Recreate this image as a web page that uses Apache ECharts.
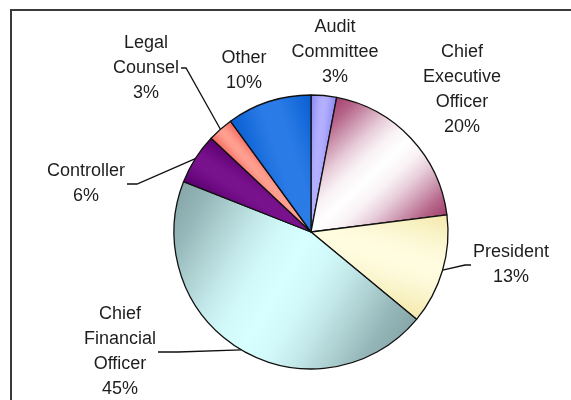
<!DOCTYPE html>
<html>
<head>
<meta charset="utf-8">
<script src="https://cdn.jsdelivr.net/npm/echarts@6/dist/echarts.min.js"></script>
<style>
  html, body { margin: 0; padding: 0; background: #ffffff; }
  #chart { width: 571px; height: 400px; }
</style>
</head>
<body>
<div id="chart"></div>
<script>
// Who signs off: share of responses by role
var categories = ['Audit\nCommittee', 'Chief\nExecutive\nOfficer', 'President',
                  'Chief\nFinancial\nOfficer', 'Controller', 'Legal\nCounsel', 'Other'];
var values = [3, 20, 13, 45, 6, 3, 10];

// Slice fills: edge colour and the lighter colour along each slice's bisector
var edgeColors = ['#8c88f2', '#a4406e', '#f4eab0', '#86a6a8', '#5c0072', '#f46a60', '#0a60d2'];
var midColors  = ['#b4b0ff', '#ffffff', '#fffce0', '#d8ffff', '#7a128e', '#ffa090', '#2c7ce8'];

// Layout
var CX = 311, CY = 232, R = 137;
var labelPos = [[335, 52], [462, 90], [511, 265], [120, 352], [86, 184], [146, 68], [244, 71]];
var showLine = [false, false, true, true, true, true, false];
var elbow = [0, 0, 6, 20, 10, 5, 0];

var total = values.reduce(function (a, b) { return a + b; }, 0);
var cum = [];
(function () { var s = 0; values.forEach(function (v) { cum.push(s); s += v; }); })();

function midAngle(i) { return 2 * Math.PI * (cum[i] + values[i] / 2) / total; }

function hex(c) { return [1, 3, 5].map(function (k) { return parseInt(c.substr(k, 2), 16); }); }
function mix(a, b, t) {
  var A = hex(a), B = hex(b);
  return 'rgb(' + A.map(function (v, k) { return Math.round(v + (B[k] - v) * t); }).join(',') + ')';
}

function sliceFill(i) {
  var th = midAngle(i);
  var half = Math.PI * values[i] / total;
  var w = R * Math.sin(Math.min(half, Math.PI / 2));
  var px = Math.cos(th), py = Math.sin(th);
  var e = edgeColors[i], m = midColors[i];
  // smooth, soft band: cosine-shaped profile across the slice
  var stops = [];
  for (var k = 0; k <= 10; k++) {
    var o = k / 10;
    var t = 0.5 - 0.5 * Math.cos(2 * Math.PI * o);
    stops.push({ offset: o, color: mix(e, m, Math.pow(t, 0.7)) });
  }
  return {
    type: 'linear', global: true,
    x: CX - w * px, y: CY - w * py, x2: CX + w * px, y2: CY + w * py,
    colorStops: stops
  };
}

var data = categories.map(function (name, i) {
  return {
    name: name,
    value: values[i],
    itemStyle: { color: sliceFill(i) },
    labelLine: { show: showLine[i] }
  };
});

var chart = echarts.init(document.getElementById('chart'), null, { renderer: 'canvas' });
chart.setOption({
  backgroundColor: '#ffffff',
  animation: false,
  graphic: [{
    type: 'rect',
    shape: { x: 11, y: 10, width: 620, height: 460 },
    style: { fill: 'none', stroke: '#3a3a3a', lineWidth: 2 },
    z: 100
  }],
  series: [{
    type: 'pie',
    center: [CX, CY],
    radius: R,
    startAngle: 90,
    clockwise: true,
    avoidLabelOverlap: false,
    data: data,
    itemStyle: { borderColor: '#111111', borderWidth: 1.3 },
    label: {
      show: true,
      position: 'outside',
      formatter: function (p) { return p.name + '\n' + p.value + '%'; },
      fontFamily: '"Liberation Sans", Arial, sans-serif',
      fontSize: 18,
      lineHeight: 25,
      color: '#1e1e1e',
      align: 'center'
    },
    labelLine: { lineStyle: { color: '#111111', width: 1.3 } },
    labelLayout: function (p) {
      var i = p.dataIndex;
      var x = labelPos[i][0], y = labelPos[i][1];
      var res = { x: x, y: y, align: 'center', verticalAlign: 'middle' };
      if (showLine[i]) {
        var th = midAngle(i);
        var ex = CX + R * Math.sin(th), ey = CY - R * Math.cos(th);
        var hw = p.labelRect.width / 2 + 2;
        var dir = ex > x ? 1 : -1;
        var endX = x + dir * hw;
        res.labelLinePoints = [[ex, ey], [endX + dir * elbow[i], y], [endX, y]];
      }
      return res;
    }
  }]
});
</script>
</body>
</html>
